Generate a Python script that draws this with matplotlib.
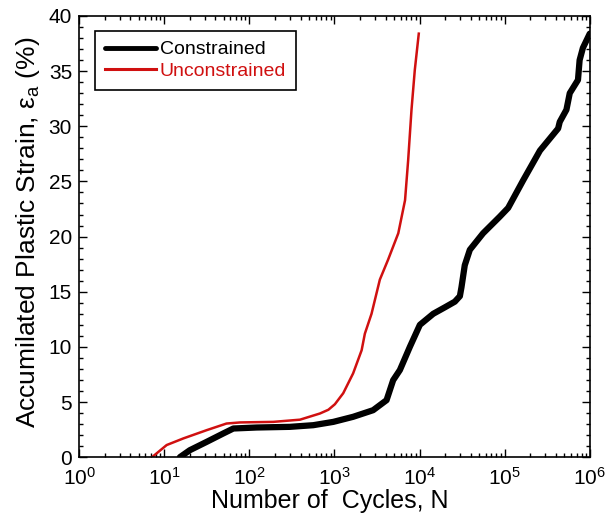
import matplotlib
matplotlib.use("Agg")
import matplotlib.pyplot as plt
from matplotlib.ticker import LogLocator, MultipleLocator

plt.rcParams['font.family'] = ['Liberation Sans', 'DejaVu Sans']
plt.rcParams['mathtext.fontset'] = 'custom'
plt.rcParams['mathtext.rm'] = 'Liberation Sans'
plt.rcParams['mathtext.it'] = 'Liberation Sans'

# cycles N and accumulated plastic strain (%) for each test
n_constrained = [15.3, 20, 31.6, 49.5, 65, 122, 300, 565, 970, 1660, 2850, 4100,
                 4900, 5880, 7700, 10100, 14500, 20000, 26000, 29800, 31100, 34000,
                 39000, 55800, 87500, 110000, 165000, 260000, 425000, 444000,
                 532000, 582000, 727000, 760000, 830000, 1000000]
eps_constrained = [0.0, 0.63, 1.39, 2.15, 2.6, 2.69, 2.75, 2.9, 3.2, 3.66, 4.26, 5.17,
                   6.98, 7.9, 10.0, 12.0, 13.0, 13.6, 14.1, 14.6, 15.4, 17.4,
                   18.8, 20.3, 21.8, 22.6, 25.1, 27.8, 29.8, 30.4,
                   31.5, 33.0, 34.2, 36.0, 37.1, 38.4]

n_unconstrained = [7.2, 10.7, 16.8, 31.6, 54, 78, 191, 394, 676, 850, 1013, 1270,
                   1660, 2090, 2280, 2730, 3420, 4270, 5630, 6760, 7350, 8050,
                   8800, 9800]
eps_unconstrained = [0.0, 1.1, 1.7, 2.45, 3.05, 3.15, 3.2, 3.4, 3.96, 4.3, 4.8, 5.8,
                     7.6, 9.7, 11.2, 13.0, 16.1, 17.9, 20.3, 23.3, 26.9, 31.5,
                     35.1, 38.4]

fig = plt.figure(figsize=(6.08, 5.16), dpi=100)
ax = fig.add_axes([0.130, 0.114, 0.840, 0.855])

ax.plot(n_constrained, eps_constrained, color='black', lw=4.5,
        solid_capstyle='round', solid_joinstyle='round', label='Constrained')
ax.plot(n_unconstrained, eps_unconstrained, color='#d01010', lw=1.8,
        solid_joinstyle='round', label='Unconstrained')

ax.set_xscale('log')
ax.set_xlim(1, 1e6)
ax.set_ylim(0, 40)
ax.xaxis.set_major_locator(LogLocator(base=10, numticks=10))
ax.xaxis.set_minor_locator(LogLocator(base=10, subs=range(2, 10), numticks=100))
ax.yaxis.set_major_locator(MultipleLocator(5))
ax.yaxis.set_minor_locator(MultipleLocator(1))

ax.tick_params(which='both', direction='in', top=True, right=True, width=1.0)
ax.tick_params(which='major', length=6, labelsize=15)
ax.tick_params(axis='x', which='major', pad=7)
ax.tick_params(axis='y', which='major', pad=5)
ax.tick_params(which='minor', length=3)
for s in ax.spines.values():
    s.set_linewidth(1.2)

ax.set_xlabel('Number of  Cycles, N', fontsize=18)
ax.set_ylabel('Accumilated Plastic Strain, ε$_{\\rm a}$ (%)', fontsize=19)
ax.xaxis.set_label_coords(0.49, -0.072)
ax.yaxis.set_label_coords(-0.072, 0.51)

leg = ax.legend(loc='upper left', bbox_to_anchor=(0.032, 0.966), fontsize=14,
                fancybox=False, edgecolor='black', framealpha=1,
                handlelength=2.6, handletextpad=0.2, borderpad=0.5,
                borderaxespad=0.0, labelspacing=0.2)
leg.get_frame().set_linewidth(1.2)
leg.get_lines()[0].set_linewidth(3.5)
leg.get_lines()[1].set_linewidth(2.2)
leg.get_texts()[1].set_color('#d01010')

fig.savefig('out.png', dpi=100)
